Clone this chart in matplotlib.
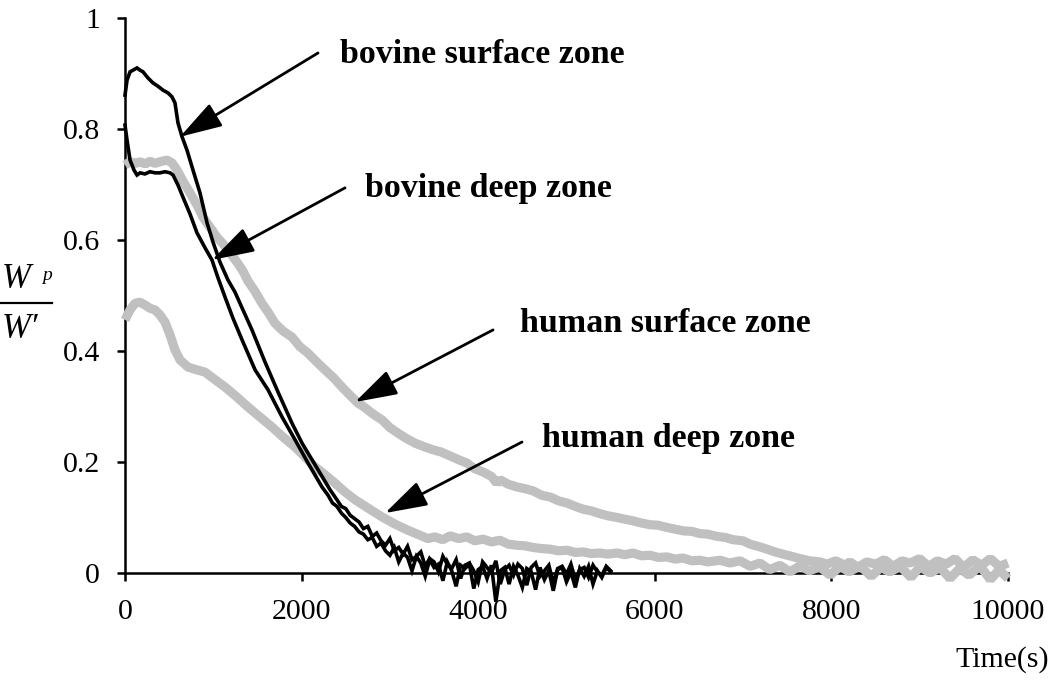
import matplotlib
matplotlib.use("Agg")
import matplotlib.pyplot as plt
from matplotlib.lines import Line2D

plt.rcParams['font.family'] = ['Liberation Serif', 'DejaVu Serif']

# ---------------- data ----------------
# bovine surface zone (black)
bs_t = [0, 23, 57, 91, 136, 170, 204, 260, 317, 374, 430, 487, 532, 566, 600, 646,
        702, 770, 849, 929, 997, 1076, 1166, 1246, 1336, 1438, 1586, 1733, 1891,
        2005, 2152, 2322] + list(range(2400, 5501, 50))
bs_v = [0.861, 0.888, 0.903, 0.906, 0.910, 0.906, 0.903, 0.892, 0.883, 0.877, 0.870,
        0.865, 0.858, 0.847, 0.811, 0.786, 0.762, 0.726, 0.685, 0.631, 0.596, 0.560,
        0.528, 0.506, 0.474, 0.438, 0.380, 0.326, 0.270, 0.234, 0.195, 0.150,
        0.132, 0.120, 0.116, 0.104, 0.098, 0.092, 0.080, 0.084, 0.066, 0.072,
        0.058, 0.050, 0.062, 0.040, 0.046, 0.034, 0.048, 0.024, 0.030, 0.038,
        0.012, 0.026, 0.020, 0.002, 0.030, 0.016, 0.008, 0.024, -0.010, 0.014,
        0.018, 0.004, -0.016, 0.020, 0.010, 0.000, 0.022, -0.020, 0.006, 0.014,
        -0.004, 0.016, 0.008, -0.022, 0.010, 0.018, -0.006, 0.004, 0.014, -0.018,
        0.008, 0.012, -0.002, 0.016, -0.012, 0.006, 0.010, -0.008, 0.014, 0.002,
        -0.004, 0.012, 0.004]

# bovine deep zone (black)
bd_t = [0, 23, 57, 102, 136, 170, 226, 283, 340, 396, 453, 510, 544, 600, 657, 736,
        815, 906, 985, 1053, 1133, 1223, 1326, 1473, 1620, 1779, 1926, 2073,
        2231] + list(range(2300, 5501, 50))
bd_v = [0.807, 0.780, 0.744, 0.726, 0.717, 0.721, 0.719, 0.723, 0.721, 0.721, 0.723,
        0.721, 0.717, 0.699, 0.677, 0.647, 0.613, 0.586, 0.564, 0.532, 0.497, 0.459,
        0.420, 0.366, 0.330, 0.281, 0.240, 0.198, 0.155,
        0.140, 0.126, 0.120, 0.108, 0.100, 0.090, 0.084, 0.074, 0.070, 0.060,
        0.064, 0.048, 0.054, 0.040, 0.032, 0.046, 0.020, 0.036, 0.028, 0.004,
        0.030, 0.018, -0.006, 0.024, 0.010, 0.016, -0.014, 0.020, 0.004, -0.024,
        0.014, 0.008, 0.016, -0.028, 0.006, 0.012, -0.010, 0.014, -0.052, 0.004,
        0.010, -0.020, 0.012, -0.004, -0.026, 0.008, 0.002, -0.030, 0.010, -0.012,
        0.004, -0.032, 0.006, 0.010, -0.016, 0.002, -0.026, 0.008, -0.006, 0.012,
        -0.020, 0.004, -0.008, 0.010, 0.002]

# human surface zone (grey)
hs_t = [0, 57, 120, 170, 230, 283, 340, 396, 476, 532, 589, 657, 736, 815, 883, 963,
        1042, 1110, 1189, 1268, 1336, 1393, 1470, 1551, 1620, 1699, 1790, 1891, 1980,
        2073, 2160, 2265, 2360, 2458, 2550, 2639, 2700, 2780, 2850, 2911, 3000, 3092,
        3180, 3284, 3380, 3488, 3580, 3681, 3780, 3873, 3960, 4054, 4150, 4210, 4247,
        4340, 4439, 4530, 4621, 4720, 4813, 4910, 5006, 5100, 5187, 5280, 5379, 5470,
        5572, 5660, 5753, 5850, 5946, 6040, 6138, 6230, 6319, 6420, 6512, 6600, 6704,
        6800, 6886, 7000, 7078, 7170, 7270, 7360, 7452, 7550, 7644, 7750, 7871, 7950,
        8050, 8150, 8210, 8300, 8400, 8500, 8600, 8700, 8800, 8890, 9000, 9100, 9200,
        9300, 9400, 9500, 9600, 9700, 9800, 9900, 10000]
hs_v = [0.735, 0.741, 0.738, 0.741, 0.737, 0.742, 0.738, 0.741, 0.744, 0.739, 0.726,
        0.706, 0.685, 0.663, 0.641, 0.623, 0.605, 0.593, 0.577, 0.560, 0.544, 0.526,
        0.508, 0.486, 0.470, 0.450, 0.436, 0.425, 0.408, 0.396, 0.382, 0.366, 0.352,
        0.335, 0.320, 0.306, 0.300, 0.290, 0.282, 0.276, 0.262, 0.252, 0.243, 0.234,
        0.228, 0.222, 0.218, 0.211, 0.204, 0.198, 0.188, 0.182, 0.174, 0.162, 0.168,
        0.160, 0.155, 0.152, 0.148, 0.140, 0.137, 0.130, 0.126, 0.120, 0.115, 0.112,
        0.107, 0.103, 0.100, 0.097, 0.094, 0.090, 0.087, 0.086, 0.082, 0.079, 0.076,
        0.075, 0.071, 0.070, 0.066, 0.064, 0.060, 0.058, 0.052, 0.048, 0.043, 0.038,
        0.034, 0.030, 0.026, 0.022, 0.020, 0.016, 0.022, 0.014, 0.020, 0.010, 0.020,
        0.016, 0.024, 0.012, 0.022, 0.018, 0.026, 0.012, 0.022, 0.016, 0.026, 0.010,
        0.024, 0.014, 0.026, 0.012, 0.018]

# human deep zone (grey)
hd_t = [0, 57, 113, 170, 226, 283, 340, 396, 453, 510, 566, 623, 713, 815, 906, 997,
        1133, 1268, 1393, 1529, 1665, 1789, 1926, 2039, 2152, 2265, 2378, 2491, 2605,
        2752, 2911, 3058, 3205, 3341, 3430, 3511, 3600, 3681, 3780, 3873, 3960, 4054,
        4150, 4247, 4340, 4439, 4530, 4621, 4720, 4813, 4910, 5006, 5100, 5187, 5280,
        5379, 5470, 5572, 5660, 5753, 5850, 5946, 6040, 6138, 6230, 6319, 6420, 6512,
        6600, 6738, 6850, 6965, 7080, 7191, 7300, 7418, 7530, 7644, 7750, 7870, 7984,
        8100, 8200, 8324, 8450, 8560, 8663, 8780, 8900, 9003, 9120, 9230, 9343, 9450,
        9560, 9683, 9800, 9900, 10000]
hd_v = [0.456, 0.474, 0.486, 0.488, 0.483, 0.477, 0.474, 0.465, 0.452, 0.429, 0.402,
        0.384, 0.371, 0.366, 0.362, 0.351, 0.335, 0.317, 0.299, 0.281, 0.263, 0.245,
        0.227, 0.209, 0.191, 0.177, 0.162, 0.146, 0.132, 0.117, 0.101, 0.088, 0.077,
        0.068, 0.062, 0.065, 0.060, 0.067, 0.062, 0.065, 0.058, 0.061, 0.056, 0.059,
        0.052, 0.050, 0.049, 0.046, 0.044, 0.043, 0.040, 0.041, 0.037, 0.038, 0.035,
        0.036, 0.034, 0.036, 0.033, 0.036, 0.031, 0.032, 0.028, 0.029, 0.025, 0.027,
        0.022, 0.023, 0.020, 0.023, 0.018, 0.022, 0.012, 0.018, 0.006, 0.014, 0.002,
        0.013, 0.004, 0.011, -0.004, 0.012, 0.002, 0.013, -0.006, 0.010, 0.002, 0.012,
        -0.008, 0.011, 0.000, 0.010, -0.010, 0.008, -0.004, 0.013, -0.012, 0.006,
        -0.010]

labels = ["bovine surface zone", "bovine deep zone", "human surface zone", "human deep zone"]
label_pos = [(2435, 0.919), (2718, 0.677), (4473, 0.434), (4723, 0.227)]
arrow_tail = [(2186, 0.937), (2492, 0.694), (4168, 0.438), (4496, 0.236)]
arrow_head = [(623, 0.786), (985, 0.564), (2605, 0.308), (2945, 0.108)]

xticks = [0, 2000, 4000, 6000, 8000, 10000]
yticks = [0, 0.2, 0.4, 0.6, 0.8, 1.0]
ytick_labels = ["0", "0.2", "0.4", "0.6", "0.8", "1"]

# ---------------- figure ----------------
W, H = 1050, 680
fig = plt.figure(figsize=(W / 100, H / 100), dpi=100)
ax = fig.add_axes([125 / W, 107 / H, (1008 - 125) / W, (573 - 18) / H])

grey = "#c0c0c0"
ax.plot(hs_t, hs_v, color=grey, lw=6.6, solid_capstyle='butt', solid_joinstyle='bevel',
        clip_on=False, zorder=3)
ax.plot(hd_t, hd_v, color=grey, lw=6.6, solid_capstyle='butt', solid_joinstyle='bevel',
        clip_on=False, zorder=3)
ax.plot(bs_t, bs_v, color="black", lw=2.6, solid_joinstyle='miter', clip_on=False, zorder=4)
ax.plot(bd_t, bd_v, color="black", lw=2.6, solid_joinstyle='miter', clip_on=False, zorder=4)

ax.set_xlim(0, 10000)
ax.set_ylim(0, 1)
for s in ("top", "right"):
    ax.spines[s].set_visible(False)
for s in ("left", "bottom"):
    ax.spines[s].set_linewidth(1.8)
    ax.spines[s].set_zorder(2)

ax.set_xticks(xticks)
ax.set_xticklabels([str(v) for v in xticks])
ax.set_yticks(yticks)
ax.set_yticklabels(ytick_labels)
ax.tick_params(axis='both', direction='out', length=6, width=1.8, labelsize=21.5)
ax.tick_params(axis='y', pad=12)
ax.tick_params(axis='x', pad=13)

for lab, pos, tail, head in zip(labels, label_pos, arrow_tail, arrow_head):
    ax.text(pos[0], pos[1], lab, fontsize=24.5, fontweight='bold', ha='left',
            va='baseline', zorder=6)
    ax.annotate('', xy=head, xytext=tail,
                arrowprops=dict(arrowstyle='-|>,head_length=1.3,head_width=0.4',
                                mutation_scale=20, lw=2.0, color='black',
                                shrinkA=0, shrinkB=0),
                zorder=6, annotation_clip=False)

# y-axis label: W^p / W'
fig.text(2 / W, (H - 288) / H, "W", fontsize=25, fontstyle='italic', ha='left', va='baseline')
fig.text(42 / W, (H - 280) / H, "p", fontsize=14, fontstyle='italic', ha='left', va='baseline')
fig.add_artist(Line2D([0, 52 / W], [(H - 303) / H] * 2, lw=1.6, color='black',
                      transform=fig.transFigure))
fig.text(2 / W, (H - 338) / H, "W\u2032", fontsize=25, fontstyle='italic', ha='left',
         va='baseline')

fig.text(1049 / W, (H - 667) / H, "Time(s)", fontsize=21.5, ha='right', va='baseline')

fig.savefig("out.png", dpi=100)
